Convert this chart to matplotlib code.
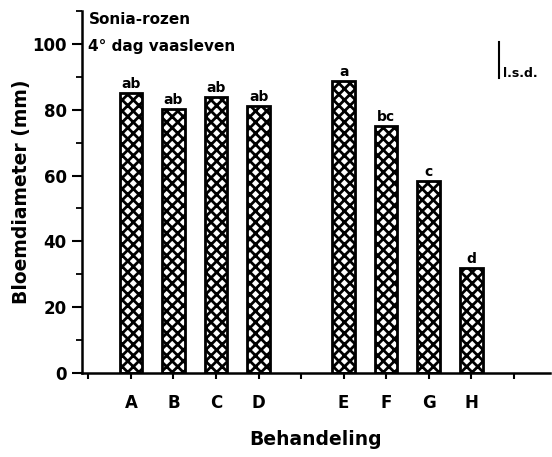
import matplotlib
matplotlib.use('Agg')
import matplotlib.pyplot as plt
from matplotlib.ticker import MultipleLocator

plt.rcParams['font.family'] = ['DejaVu Sans']
plt.rcParams['font.weight'] = 'bold'
plt.rcParams['hatch.linewidth'] = 2.0

# treatments, bar positions (gap between D and E) and diameters (mm)
treatments = ['A', 'B', 'C', 'D', 'E', 'F', 'G', 'H']
positions = [1, 2, 3, 4, 6, 7, 8, 9]
diameter = [85.0, 80.3, 83.9, 81.1, 88.7, 75.1, 58.4, 32.0]
letters = ['ab', 'ab', 'ab', 'ab', 'a', 'bc', 'c', 'd']
lsd = 11.0
lsd_bottom = 89.5

fig = plt.figure(figsize=(5.52, 4.57), dpi=100)
ax = fig.add_axes([82 / 552, 1 - 373 / 457, 468 / 552, 362 / 457])

bars = ax.bar(positions, diameter, width=0.53, color='white',
              edgecolor='black', hatch='xxx', linewidth=2.0)

for x, h, lab in zip(positions, diameter, letters):
    ax.annotate(lab, (x, h), xytext=(0, 1.5), textcoords='offset points',
                ha='center', va='bottom', fontsize=10, fontweight='bold')

# l.s.d. bar
ax.plot([9.66, 9.66], [lsd_bottom, lsd_bottom + lsd], color='black', lw=1.5)
ax.text(9.74, lsd_bottom - 0.5, 'l.s.d.', ha='left', va='bottom', fontsize=9)

ax.text(0.0, 107.3, 'Sonia-rozen', ha='left', va='center', fontsize=11)
ax.text(0.0, 99.3, '4° dag vaasleven', ha='left', va='center', fontsize=11)

ax.set_xlim(-0.15, 10.85)
ax.set_ylim(0, 110)
ax.set_xticks(range(0, 11))
ax.set_xticklabels(['', 'A', 'B', 'C', 'D', '', 'E', 'F', 'G', 'H', ''])
ax.set_yticks([0, 20, 40, 60, 80, 100])
ax.yaxis.set_minor_locator(MultipleLocator(10))

for s in ['top', 'right']:
    ax.spines[s].set_visible(False)
for s in ['left', 'bottom']:
    ax.spines[s].set_linewidth(1.8)

ax.tick_params(axis='y', which='major', direction='out', length=7, width=1.5,
               labelsize=12, pad=4)
ax.tick_params(axis='y', which='minor', direction='out', length=4, width=1.3)
ax.tick_params(axis='x', direction='out', length=4, width=1.5,
               labelsize=12, pad=11)
for lbl in ax.get_xticklabels() + ax.get_yticklabels():
    lbl.set_fontweight('bold')

ax.set_ylabel('Bloemdiameter (mm)', fontsize=13.5, fontweight='bold', labelpad=1)
ax.set_xlabel('Behandeling', fontsize=13.5, fontweight='bold', labelpad=13)

fig.savefig('out.png', dpi=100)
